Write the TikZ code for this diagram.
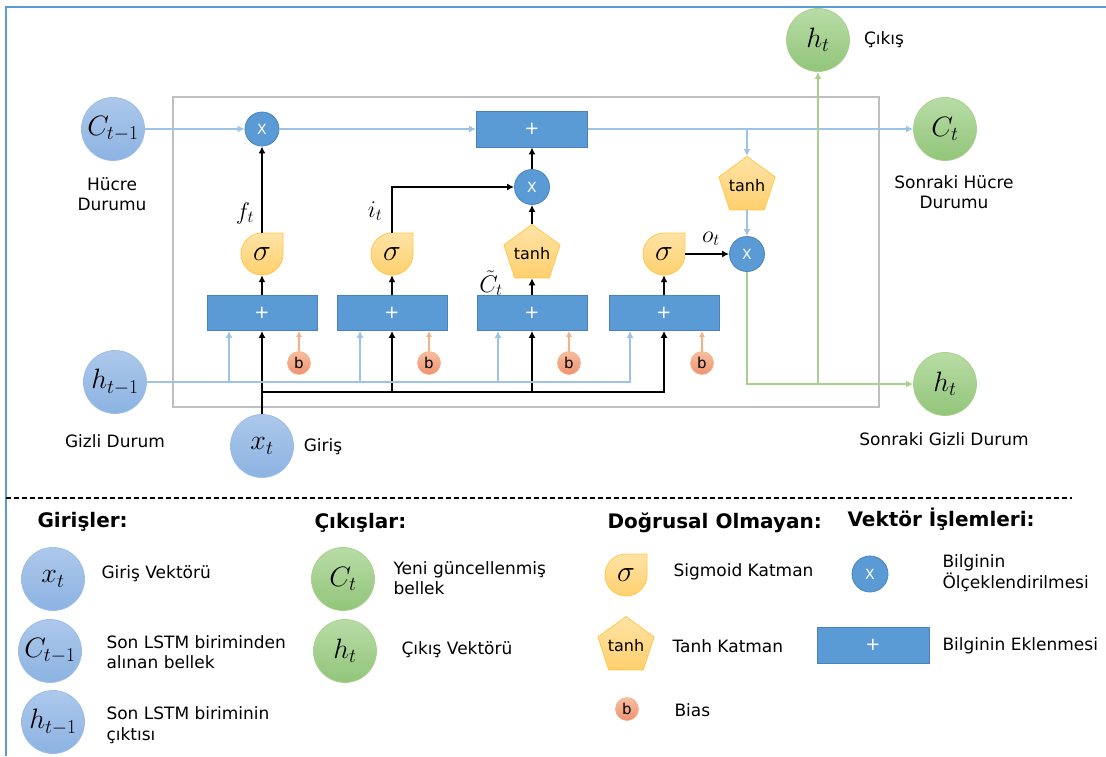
\documentclass[tikz,border=0pt]{standalone}
\usepackage{fix-cm}
\usepackage{fontspec}
\setmainfont{DejaVu Sans}
\usetikzlibrary{shapes.geometric,arrows.meta,calc}

\definecolor{frameblue}{HTML}{5B9BD5}
\definecolor{opblue}{HTML}{5B9BD5}
\definecolor{opborder}{HTML}{4A82BE}
\definecolor{wireblue}{HTML}{9DC3E6}
\definecolor{wiregreen}{HTML}{A9D18E}
\definecolor{cellgray}{HTML}{BFBFBF}
\definecolor{inTop}{HTML}{ADC8EB}
\definecolor{inBot}{HTML}{8CB3E2}
\definecolor{inBorder}{HTML}{9DBDE6}
\definecolor{outTop}{HTML}{B8DCA6}
\definecolor{outBot}{HTML}{92C57A}
\definecolor{outBorder}{HTML}{A9D18E}
\definecolor{actTop}{HTML}{FFE3A6}
\definecolor{actBot}{HTML}{FFD06E}
\definecolor{actBorder}{HTML}{FFC84A}
\definecolor{biasTop}{HTML}{F7BFA0}
\definecolor{biasBot}{HTML}{EE9272}
\definecolor{biasBorder}{HTML}{F4B183}

\tikzset{
  invec/.style={circle, minimum size=63pt, inner sep=0pt, top color=inTop, bottom color=inBot,
    draw=inBorder, line width=0.8pt, font=\fontsize{28}{28}\selectfont},
  outvec/.style={circle, minimum size=63pt, inner sep=0pt, top color=outTop, bottom color=outBot,
    draw=outBorder, line width=0.8pt, font=\fontsize{28}{28}\selectfont},
  mulop/.style={circle, minimum size=34pt, inner sep=0pt, fill=opblue, draw=opborder,
    line width=0.8pt, text=white, font=\fontsize{14}{14}\selectfont},
  addop/.style={rectangle, minimum width=110pt, minimum height=35pt, inner sep=0pt, fill=opblue,
    draw=opborder, line width=0.8pt, text=white, font=\fontsize{18}{18}\selectfont},
  tanhop/.style={regular polygon, regular polygon sides=5, minimum size=59pt, inner sep=-8pt,
    top color=actTop, bottom color=actBot, draw=actBorder, line width=0.8pt,
    font=\fontsize{16}{16}\selectfont},
  sigtxt/.style={circle, minimum size=42pt, inner sep=0pt, font=\fontsize{30}{30}\selectfont},
  biasop/.style={circle, minimum size=23pt, inner sep=0pt, top color=biasTop, bottom color=biasBot,
    draw=biasBorder, line width=0.6pt, font=\fontsize{15}{15}\selectfont},
  lbl/.style={font=\fontsize{17}{20}\selectfont, align=center},
  legtxt/.style={font=\fontsize{17}{20.5}\selectfont, align=left, anchor=west},
  head/.style={font=\fontsize{20}{20}\selectfont\bfseries, anchor=west},
  gatelbl/.style={inner sep=0pt, font=\fontsize{24}{24}\selectfont},
  tip/.style={-{Latex[length=7pt,width=7pt]}},
  blkline/.style={black, line width=1.6pt},
  blkarrow/.style={blkline, tip},
  lbarrow/.style={wireblue, line width=1.7pt, tip},
  grline/.style={wiregreen, line width=1.8pt},
  grarrow/.style={grline, tip},
  orarrow/.style={biasBorder, line width=1.5pt, -{Latex[length=6pt,width=6pt]}},
}

% sigmoid gate: a disc whose upper right quarter is squared off
\newcommand{\sigmagate}[3]{%
  \path[top color=actTop, bottom color=actBot, draw=actBorder, line width=0.8pt]
    (#2,#3) ++(21pt,0pt) arc[start angle=0, end angle=-270, radius=21pt]
    -- ++(21pt,0pt) -- cycle;
  \node[sigtxt] (#1) at (#2,#3) {$\sigma$};}

\begin{document}
\begin{tikzpicture}[x=1pt,y=-1pt]
\useasboundingbox (0,0) rectangle (1106,756);

% outer frame
\draw[frameblue, line width=2pt] (6,756) -- (6,7) -- (1106,7);

% LSTM cell
\draw[cellgray, line width=1.5pt] (173,97) rectangle (879,407);

% states entering and leaving the cell
\node[invec] (cprev) at (113,129) {$C_{t-1}$};
\node[lbl] (cprevlbl) at (112,194) {Hücre\\Durumu};
\node[invec] (hprev) at (115,382) {$h_{t-1}$};
\node[lbl] (hprevlbl) at (115,441) {Gizli Durum};
\node[invec] (xt) at (262,446) {$x_t$};
\node[lbl] (xtlbl) at (323,447) {Giriş};
\node[outvec] (ct) at (945,129) {$C_t$};
\node[lbl] (ctlbl) at (954,192) {Sonraki Hücre\\Durumu};
\node[outvec] (htop) at (818,40) {$h_t$};
\node[lbl] (htoplbl) at (884,40) {Çıkış};
\node[outvec] (hnext) at (945,384) {$h_t$};
\node[lbl] (hnextlbl) at (944,439) {Sonraki Gizli Durum};

% pointwise operations
\node[mulop] (mf) at (262,129) {X};
\node[addop, minimum width=111pt, minimum height=36pt] (addc) at (532,129) {+};
\node[mulop, minimum size=35pt] (mi) at (532,187) {X};
\node[mulop, minimum size=35pt] (mo) at (747,254) {X};

% gate layers
\node[addop] (af) at (262,313) {+};
\node[addop] (ai) at (392,313) {+};
\node[addop] (ag) at (532,313) {+};
\node[addop] (ao) at (664,313) {+};
\sigmagate{sf}{262}{254}
\sigmagate{si}{392}{254}
\sigmagate{so}{664}{254}
\node[tanhop] (tc) at (532,254) {tanh};
\node[tanhop] (tcell) at (747,186) {tanh};

% biases
\node[biasop] (b1) at (299,363) {b};
\node[biasop] (b2) at (429,363) {b};
\node[biasop] (b3) at (569,363) {b};
\node[biasop] (b4) at (702,363) {b};

% gate labels
\node[gatelbl] (flbl) at (245,213) {$f_t$};
\node[gatelbl] (ilbl) at (375,211) {$i_t$};
\node[gatelbl] (clbl) at (491,283) {$\tilde{C}_t$};
\node[gatelbl] (olbl) at (711,239) {$o_t$};

% cell state path
\draw[lbarrow] (cprev) -- (mf);
\draw[lbarrow] (mf) -- (addc);
\draw[lbarrow] (addc) -- (ct);
\coordinate (tap) at (tcell.corner 1 |- addc.east);
\draw[lbarrow] (tap) -- (tcell.corner 1);
\draw[lbarrow] (tcell.side 3) -- (mo);

% gate outputs
\draw[blkarrow] (af) -- (sf);
\draw[blkarrow] (sf) -- (mf);
\draw[blkarrow] (ai) -- (si);
\draw[blkarrow] (si.north) |- (mi.west);
\draw[blkarrow] (ag) -- (tc.side 3);
\draw[blkarrow] (tc.corner 1) -- (mi);
\draw[blkarrow] (mi) -- (addc);
\draw[blkarrow] (ao) -- (so);
\draw[blkarrow] (so.east) -- (mo.west);

% input x_t to every gate
\coordinate (xsplit) at (262,392);
\draw[blkarrow] (xt) -- (af);
\draw[blkarrow] (xsplit) -| (ao.south);
\draw[blkarrow] (xsplit -| ai.south) -- (ai.south);
\draw[blkarrow] (xsplit -| ag.south) -- (ag.south);

% previous hidden state to every gate
\coordinate (hf) at ([xshift=-33pt]af.south);
\coordinate (hi) at ([xshift=-32pt]ai.south);
\coordinate (hg) at ([xshift=-34pt]ag.south);
\coordinate (ho) at ([xshift=-34pt]ao.south);
\draw[lbarrow] (hprev.east) -| (ho);
\draw[lbarrow] (hf |- hprev.east) -- (hf);
\draw[lbarrow] (hi |- hprev.east) -- (hi);
\draw[lbarrow] (hg |- hprev.east) -- (hg);

% biases into the gates
\draw[orarrow] (b1) -- (b1 |- af.south);
\draw[orarrow] (b2) -- (b2 |- ai.south);
\draw[orarrow] (b3) -- (b3 |- ag.south);
\draw[orarrow] (b4) -- (b4 |- ao.south);

% hidden state output
\draw[grarrow] (mo.south) |- (hnext.west);
\draw[grarrow] (htop |- hnext.west) -- (htop.south);

% separator
\draw[black, line width=1.2pt, dash pattern=on 5pt off 3pt] (6,498) -- (1072,498);

% legend
\node[head] (hin) at (34,522) {Girişler:};
\node[invec] (lx) at (53,579) {$x_t$};
\node[legtxt] (lxt) at (98,574) {Giriş Vektörü};
\node[invec] (lc) at (50,651) {$C_{t-1}$};
\node[legtxt] (lct) at (103,652) {Son LSTM biriminden\\alınan bellek};
\node[invec] (lh) at (53,722) {$h_{t-1}$};
\node[legtxt] (lht) at (103,725) {Son LSTM biriminin\\çıktısı};

\node[head] (hout) at (311,523) {Çıkışlar:};
\node[outvec] (lcn) at (343,579) {$C_t$};
\node[legtxt] (lcnt) at (390,578) {Yeni güncellenmiş\\bellek};
\node[outvec] (lhn) at (345,651) {$h_t$};
\node[legtxt] (lhnt) at (398,650) {Çıkış Vektörü};

\node[head] (hact) at (604,523) {Doğrusal Olmayan:};
\sigmagate{lsig}{626}{575}
\node[legtxt] (lsigt) at (670,572) {Sigmoid Katman};
\node[tanhop] (ltanh) at (626,646) {tanh};
\node[legtxt] (ltanht) at (669,646) {Tanh Katman};
\node[biasop] (lb) at (627,709) {b};
\node[legtxt] (lbt) at (671,710) {Bias};

\node[head] (hop) at (844,519) {Vektör İşlemleri:};
\node[mulop, minimum size=36pt] (lmul) at (870,574) {X};
\node[legtxt] (lmult) at (939,573) {Bilginin\\Ölçeklendirilmesi};
\node[addop, minimum width=112pt, minimum height=36pt] (ladd) at (873,645) {+};
\node[legtxt] (laddt) at (939,646) {Bilginin Eklenmesi};
\end{tikzpicture}
\end{document}
